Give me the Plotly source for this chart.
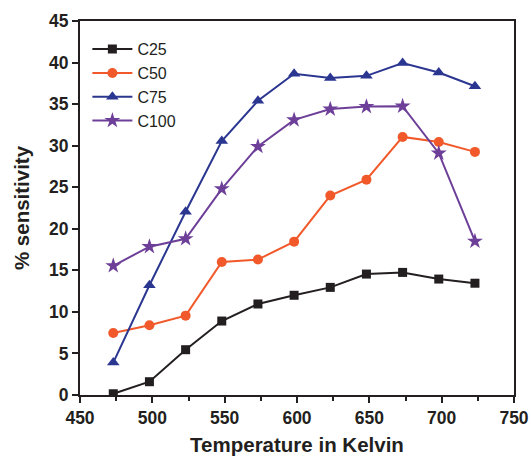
import plotly.graph_objects as go

temperature = [473, 498, 523, 548, 573, 598, 623, 648, 673, 698, 723]
c25 = [0.15, 1.6, 5.45, 8.9, 10.95, 12.0, 12.95, 14.55, 14.75, 13.95, 13.45]
c50 = [7.45, 8.4, 9.55, 16.0, 16.3, 18.45, 24.0, 25.9, 31.05, 30.45, 29.25]
c75 = [3.9, 13.2, 22.05, 30.55, 35.4, 38.65, 38.15, 38.4, 39.95, 38.8, 37.15]
c100 = [15.55, 17.85, 18.8, 24.8, 29.9, 33.1, 34.4, 34.7, 34.75, 29.1, 18.5]

series = [
    ("C25", c25, "#231F20", "square", 9),
    ("C50", c50, "#F1592A", "circle", 10),
    ("C75", c75, "#2B3691", "triangle-up", 11),
    ("C100", c100, "#6D3F98", "star", 12),
]

fig = go.Figure()
for name, vals, color, sym, size in series:
    fig.add_trace(go.Scatter(
        x=temperature, y=vals, name=name, mode="lines+markers",
        line=dict(color=color, width=2),
        marker=dict(symbol=sym, size=size, color=color),
    ))

axis_common = dict(
    showline=True, linewidth=2, linecolor="#231F20", mirror=True,
    showgrid=False, zeroline=False, automargin=False,
    ticks="outside", ticklen=6, tickwidth=2, tickcolor="#231F20",
    tickfont=dict(family="Liberation Sans, Arial", size=17.5, color="#231F20", weight="bold"),
)
title_font = dict(family="Liberation Sans, Arial", size=20.5, color="#231F20", weight="bold")

fig.update_layout(
    width=531, height=456,
    margin=dict(l=80, r=17, t=21, b=61),
    paper_bgcolor="white", plot_bgcolor="white",
    showlegend=True,
    legend=dict(x=0.017, y=0.97, xanchor="left", yanchor="top",
                bgcolor="rgba(0,0,0,0)",
                font=dict(family="Liberation Sans, Arial", size=16, color="#231F20"),
                tracegroupgap=0, itemwidth=40),
    xaxis=dict(range=[450, 750], tickvals=[450, 500, 550, 600, 650, 700, 750],
               minor=dict(tickvals=[475, 525, 575, 625, 675, 725], ticks="outside",
                          ticklen=4, tickwidth=2, tickcolor="#231F20"),
               title=dict(text="Temperature in Kelvin", standoff=13, font=title_font),
               **axis_common),
    yaxis=dict(range=[0, 45], tickvals=[0, 5, 10, 15, 20, 25, 30, 35, 40, 45],
               title=dict(text="% sensitivity", standoff=14, font=title_font),
               **axis_common),
)

fig.write_html("out.html")
